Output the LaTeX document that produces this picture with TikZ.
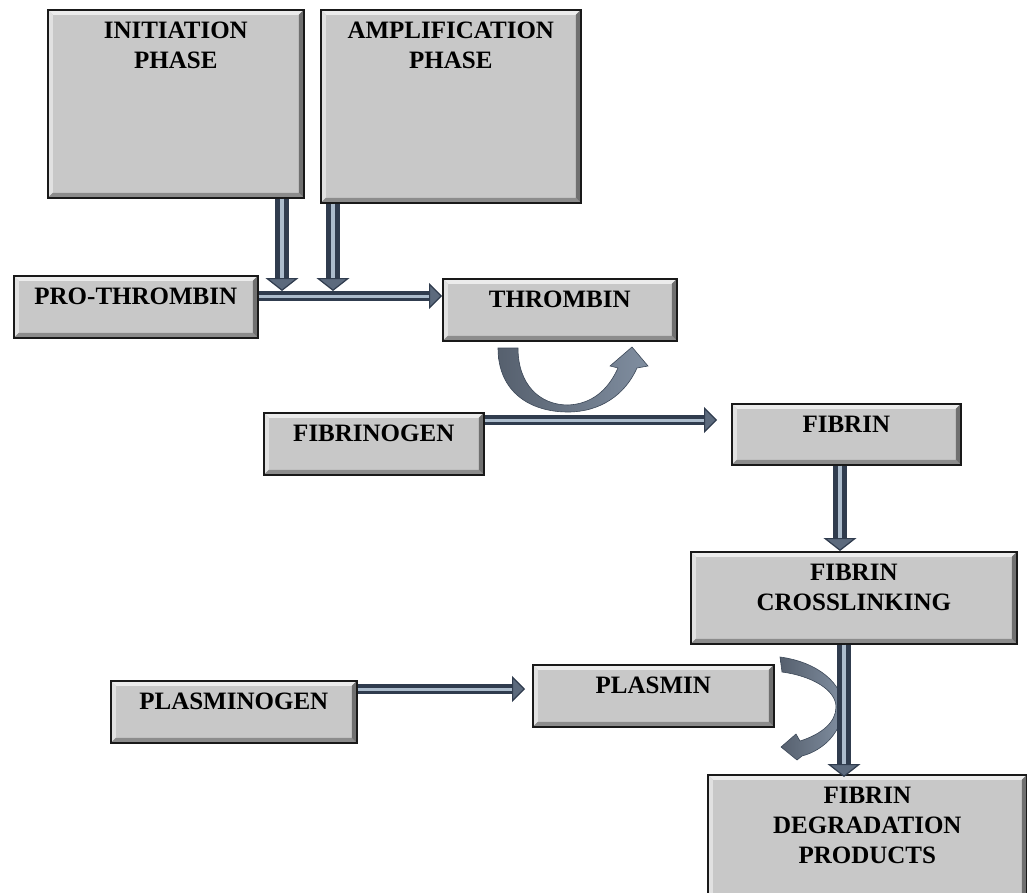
\documentclass[tikz,border=0pt]{standalone}
\usepackage{fontspec}
\setmainfont{Liberation Serif}
\usetikzlibrary{arrows.meta}

\definecolor{boxgray}{RGB}{200,200,200}
\definecolor{boxline}{RGB}{25,25,25}
\definecolor{bevlight}{RGB}{236,236,236}
\definecolor{bevdark}{RGB}{140,140,140}
\definecolor{tubedark}{RGB}{48,60,78}
\definecolor{tubelight}{RGB}{172,188,204}
\definecolor{tubemid}{RGB}{92,106,125}
\definecolor{curvel}{RGB}{86,96,110}
\definecolor{curver}{RGB}{128,142,160}
\definecolor{curveline}{RGB}{60,72,88}

\pgfdeclarelayer{background}
\pgfdeclarelayer{foreground}
\pgfsetlayers{background,main,foreground}

% box text: width, height, lines
\newcommand{\boxtext}[3]{\parbox[c][#2][t]{#1}{\centering\vspace*{12pt}#3}}

\begin{document}
\begin{tikzpicture} [
	   x=1pt, y=-1pt,
	   block/.style    = { rectangle, anchor=north west, draw=boxline, line width=1.6pt, fill=boxgray,
	                       inner sep=0pt, font=\fontsize{25}{30}\selectfont\bfseries,
	                       path picture={
	                         \path (path picture bounding box.north west) coordinate (bnw)
	                               (path picture bounding box.north east) coordinate (bne)
	                               (path picture bounding box.south east) coordinate (bse)
	                               (path picture bounding box.south west) coordinate (bsw);
	                         \fill[bevlight] (bnw) -- (bne) -- ([shift={(-5pt,-5pt)}]bne) -- ([shift={(5pt,-5pt)}]bnw) -- cycle;
	                         \fill[bevlight!70!boxgray] (bnw) -- ([shift={(5pt,-5pt)}]bnw) -- ([shift={(5pt,5pt)}]bsw) -- (bsw) -- cycle;
	                         \fill[bevdark] (bsw) -- (bse) -- ([shift={(-5pt,5pt)}]bse) -- ([shift={(5pt,5pt)}]bsw) -- cycle;
	                         \fill[bevdark!80!black] (bse) -- (bne) -- ([shift={(-5pt,-5pt)}]bne) -- ([shift={(-5pt,5pt)}]bse) -- cycle;
	                       } },
	   htube/.style    = { draw=tubedark, line width=10pt,
	                       -{Triangle[length=13pt,width=26pt,line width=1.2pt,fill=tubemid]},
	                       postaction={draw=tubelight, line width=3pt, -, shorten >=13pt} },
	   vtube/.style    = { draw=tubedark, line width=14pt,
	                       -{Triangle[length=13pt,width=33pt,line width=1.2pt,fill=tubemid]},
	                       postaction={draw=tubelight, line width=4pt, -, shorten >=13pt} },
	   curvearrow/.style = { draw=curveline, line width=0.6pt, left color=curvel, right color=curver },
	 ]
	  \clip (0,0) rectangle (1027,893);

	  % boxes
	  \node [block] (init)    at (47,9)    {\boxtext{256pt}{188pt}{INITIATION\\PHASE}};
	  \node [block] (ampl)    at (320,9)   {\boxtext{260pt}{193pt}{AMPLIFICATION\\PHASE}};
	  \node [block] (prothr)  at (13,275)  {\boxtext{244pt}{62pt}{PRO-THROMBIN}};
	  \node [block] (thromb)  at (442,278) {\boxtext{234pt}{62pt}{THROMBIN}};
	  \node [block] (fibgen)  at (263,412) {\boxtext{220pt}{62pt}{FIBRINOGEN}};
	  \node [block] (fibrin)  at (731,403) {\boxtext{229pt}{61pt}{FIBRIN}};
	  \node [block] (xlink)   at (690,551) {\boxtext{326pt}{92pt}{FIBRIN\\CROSSLINKING}};
	  \node [block] (plgen)   at (110,680) {\boxtext{246pt}{62pt}{PLASMINOGEN}};
	  \node [block] (plasmin) at (532,664) {\boxtext{241pt}{62pt}{PLASMIN}};
	  \node [block] (fdp)     at (707,774) {\boxtext{319pt}{130pt}{FIBRIN\\DEGRADATION\\PRODUCTS}};

	  % arrow ends
	  \coordinate (h1) at (0,296);
	  \coordinate (j1) at (282,291);
	  \coordinate (j2) at (333,291);
	  \coordinate (h2) at (717,420);
	  \coordinate (h3) at (525,689);
	  \coordinate (v1) at (840,551);
	  \coordinate (v2) at (844,777);

	 \begin{pgfonlayer}{background}
	  % thrombin acts on fibrinogen
	  \path[curvearrow] (498,348) .. controls (498,392) and (530,412) .. (568,412)
	        .. controls (600,412) and (625,395) .. (637,368)
	        -- (648,366) -- (632,347) -- (610,366) -- (618,368)
	        .. controls (608,390) and (592,404) .. (568,405)
	        .. controls (540,405) and (518,385) .. (518,348) -- cycle;
	  % plasmin acts on crosslinked fibrin
	  \path[curvearrow] (780,657) .. controls (818,662) and (843,684) .. (843,707)
	        .. controls (843,730) and (825,750) .. (802,756)
	        -- (797,760) -- (781,747) -- (796,734) -- (800,741)
	        .. controls (822,734) and (836,722) .. (836,707)
	        .. controls (836,690) and (812,676) .. (782,672) -- cycle;
	 \end{pgfonlayer}

	 \begin{pgfonlayer}{foreground}
	  \path[htube] (prothr.east |- h1) -- (thromb.west |- h1);
	  \path[vtube] (init.south -| j1) -- (j1);
	  \path[vtube] (ampl.south -| j2) -- (j2);
	%
	  \path[htube] (fibgen.east |- h2) -- (h2);
	  \path[vtube] (fibrin.south -| v1) -- (v1);
	  \path[vtube] (xlink.south -| v2) -- (v2);
	%
	  \path[htube] (plgen.east |- h3) -- (h3);
	 \end{pgfonlayer}
\end{tikzpicture}
\end{document}
